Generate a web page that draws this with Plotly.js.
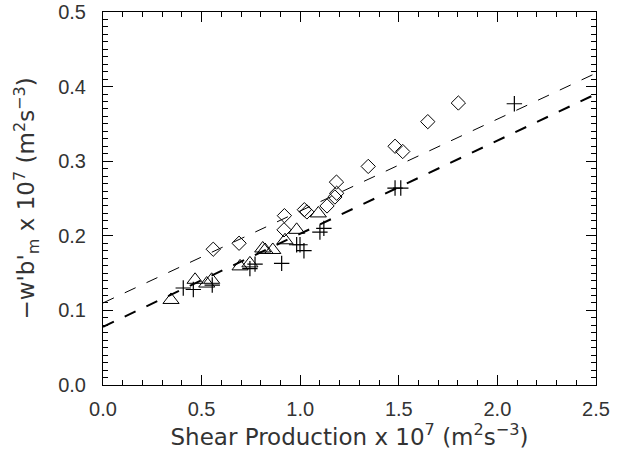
<!DOCTYPE html>
<html>
<head>
<meta charset="utf-8">
<script src="https://cdn.plot.ly/plotly-3.0.1.min.js"></script>
<style>html,body{margin:0;padding:0;background:#fff;}#chart{width:617px;height:459px;}</style>
</head>
<body>
<div id="chart"></div>
<script>
// Diamonds
var diamondX = [0.559, 0.690, 0.920, 0.918, 1.021, 1.034, 1.136, 1.184, 1.185, 1.176, 1.345, 1.481, 1.520, 1.647, 1.802];
var diamondY = [0.182, 0.190, 0.227, 0.208, 0.235, 0.232, 0.240, 0.272, 0.257, 0.252, 0.293, 0.320, 0.313, 0.353, 0.378];
// Triangles
var triangleX = [0.345, 0.467, 0.551, 0.526, 0.695, 0.745, 0.810, 0.822, 0.861, 0.923, 0.982, 1.092];
var triangleY = [0.114, 0.141, 0.141, 0.136, 0.159, 0.163, 0.183, 0.181, 0.181, 0.194, 0.208, 0.230];
// Crosses
var crossX = [0.407, 0.458, 0.554, 0.745, 0.771, 0.906, 0.982, 1.019, 0.999, 1.100, 1.120, 1.481, 1.510, 2.086];
var crossY = [0.130, 0.128, 0.134, 0.156, 0.162, 0.163, 0.188, 0.180, 0.188, 0.205, 0.210, 0.264, 0.264, 0.377];
// Fit lines
var fitX = [0.0, 2.5];
var fitUpperY = [0.110, 0.418];
var fitLowerY = [0.078, 0.390];

var xTickVals = [0.0, 0.5, 1.0, 1.5, 2.0, 2.5];
var xTickText = ['0.0', '0.5', '1.0', '1.5', '2.0', '2.5'];
var yTickVals = [0.0, 0.1, 0.2, 0.3, 0.4, 0.5];
var yTickText = ['0.0', '0.1', '0.2', '0.3', '0.4', '0.5'];

var xTitle = 'Shear Production x 10<sup>7</sup> (m<sup>2</sup>s<sup>\u22123</sup>)';
var yTitle = '\u2212w&#39;b&#39;<sub>m</sub> x 10<sup>7</sup> (m<sup>2</sup>s<sup>\u22123</sup>)';

var TICKFONT = 'Liberation Sans, Arial, sans-serif';
var TITLEFONT = 'DejaVu Sans, sans-serif';
var TXT = '#333';

var traces = [
  {x: fitX, y: fitUpperY, mode: 'lines', line: {color: '#000', width: 1, dash: '12px,12px'}, hoverinfo: 'skip'},
  {x: fitX, y: fitLowerY, mode: 'lines', line: {color: '#000', width: 2, dash: '12px,12px'}, hoverinfo: 'skip'},
  {x: diamondX, y: diamondY, mode: 'markers', marker: {symbol: 'diamond-open', size: 11, color: '#000', line: {width: 1, color: '#000'}}},
  {x: triangleX, y: triangleY, mode: 'markers', marker: {symbol: 'triangle-up-open', size: 14, color: '#000', line: {width: 1, color: '#000'}}},
  {x: crossX, y: crossY, mode: 'markers', marker: {symbol: 'cross-thin-open', size: 11, color: '#000', line: {width: 1.2, color: '#000'}}}
];

var axisCommon = {
  showgrid: false, zeroline: false, showline: true, linecolor: '#000', linewidth: 1,
  mirror: 'allticks', ticks: 'inside', ticklen: 10, tickwidth: 1, tickcolor: '#000',
  tickfont: {family: TICKFONT, size: 20, color: TXT}
};

var layout = {
  width: 617, height: 459,
  margin: {l: 103, r: 21, t: 12, b: 74},
  paper_bgcolor: '#fff', plot_bgcolor: '#fff',
  showlegend: false,
  xaxis: Object.assign({}, axisCommon, {
    range: [0, 2.5], tickvals: xTickVals, ticktext: xTickText,
    minor: {dtick: 0.1, ticks: 'inside', ticklen: 5, tickcolor: '#000', tickwidth: 1},
    ticklabelstandoff: 6,
    title: {text: xTitle, font: {family: TITLEFONT, size: 23, color: TXT}, standoff: 0}
  }),
  yaxis: Object.assign({}, axisCommon, {
    range: [0, 0.5], tickvals: yTickVals, ticktext: yTickText,
    minor: {dtick: 0.01, ticks: 'inside', ticklen: 5, tickcolor: '#000', tickwidth: 1},
    ticklabelstandoff: 12
  }),
  annotations: [{
    text: yTitle, xref: 'paper', yref: 'paper', x: -0.156, y: 0.5,
    xanchor: 'center', yanchor: 'middle', textangle: -90, showarrow: false,
    font: {family: TITLEFONT, size: 23, color: TXT}
  }]
};

Plotly.newPlot('chart', traces, layout, {staticPlot: true, displayModeBar: false});
</script>
</body>
</html>
